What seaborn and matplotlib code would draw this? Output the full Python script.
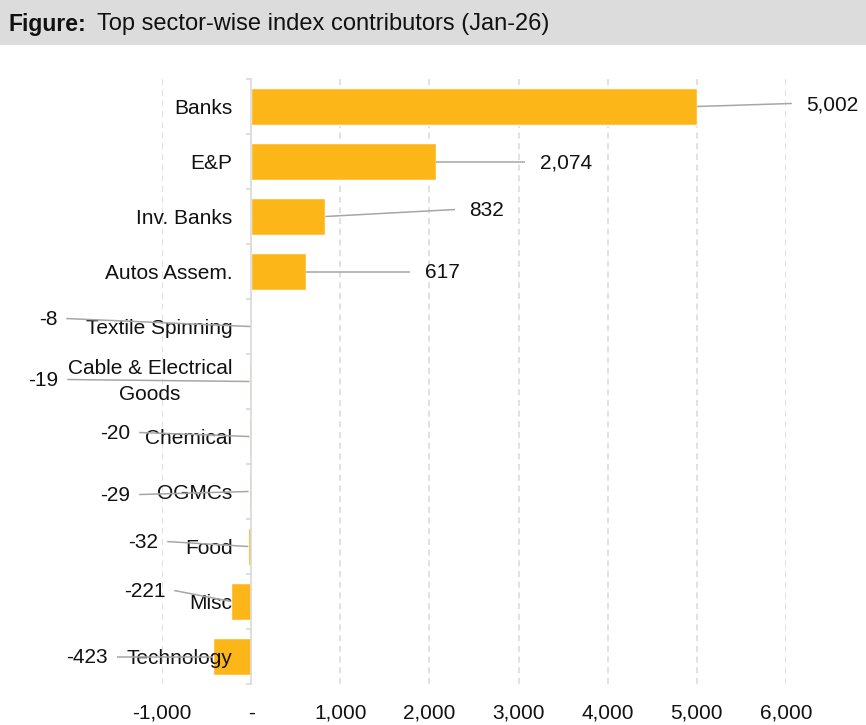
import matplotlib
matplotlib.use("Agg")
import matplotlib.pyplot as plt
import matplotlib.transforms as mtransforms
from matplotlib.patches import Rectangle
import seaborn as sns
import pandas as pd

# Sector contributions to the index, Jan-26
sectors = ["Banks", "E&P", "Inv. Banks", "Autos Assem.", "Textile Spinning",
           "Cable & Electrical\nGoods", "Chemical", "OGMCs", "Food", "Misc", "Technology"]
contribution = [5002, 2074, 832, 617, -8, -19, -20, -29, -32, -221, -423]

x_ticks = [-1000, 0, 1000, 2000, 3000, 4000, 5000, 6000]
x_tick_labels = ["-1,000", "-", "1,000", "2,000", "3,000", "4,000", "5,000", "6,000"]

# where each value label's leader line ends (x in data units, vertical shift in rows)
leader_x = [6065, 3072, 2287, 1783, -2074, -2063, -1256, -1256, -942, -863, -1502]
leader_dy = [-0.055, 0.0, -0.127, 0.0, -0.145, -0.036, -0.073, 0.055, -0.09, -0.2, 0.0]

BAR = "#FDB618"
GRID = "#D9D9D9"
LEADER = "#A6A6A6"

sns.set_theme(style="white")
plt.rcParams["font.family"] = ["Liberation Sans", "DejaVu Sans"]

df = pd.DataFrame({"sector": sectors, "value": contribution})

fig = plt.figure(figsize=(8.66, 7.25), dpi=100)

# grey title band
fig.patches.append(Rectangle((0, 1 - 45 / 725), 1, 45 / 725, transform=fig.transFigure,
                             facecolor="#DCDCDC", edgecolor="none", zorder=0))
fig.text(8 / 866, 1 - 24 / 725, "Figure:", fontsize=16.5, fontweight="bold",
         va="center", ha="left", color="#111111")
fig.text(97 / 866, 1 - 24 / 725, "Top sector-wise index contributors (Jan-26)",
         fontsize=17, va="center", ha="left", color="#111111")

ax = fig.add_axes([162 / 866, 1 - 684 / 725, (786 - 162) / 866, (684 - 79) / 725])

# dashed vertical gridlines behind the bars
for t in x_ticks:
    if t != 0:
        ax.axvline(t, color=GRID, linestyle=(0, (4, 3)), linewidth=1.1, zorder=0.5)

sns.barplot(data=df, x="value", y="sector", orient="h", color=BAR, saturation=1,
            width=0.66, ax=ax, zorder=1)

n = len(sectors)
ax.set_xlim(-1000, 6000)
ax.set_ylim(n - 0.5, -0.5)
ax.set_axisbelow(False)  # category names sit on top of the bars

# axes styling
for side in ("top", "right", "bottom"):
    ax.spines[side].set_visible(False)
ax.spines["left"].set_position(("data", 0))
ax.spines["left"].set_color(GRID)
ax.spines["left"].set_linewidth(1.2)

ax.set_xticks(x_ticks)
ax.set_xticklabels(x_tick_labels)
ax.tick_params(axis="x", length=0, pad=14, labelsize=15, labelcolor="#111111")

ax.set_yticks(range(n))
ax.set_yticklabels(sectors)
ax.set_yticks([i - 0.5 for i in range(n + 1)], minor=True)
ax.tick_params(axis="y", which="major", length=0, pad=13.5, labelsize=15,
               labelcolor="#111111")
ax.tick_params(axis="y", which="minor", length=3.6, width=1.2, color=GRID, left=True)
for lbl in ax.get_yticklabels():
    lbl.set_multialignment("center")
    lbl.set_linespacing(1.4)
    if "\n" in lbl.get_text():
        lbl.set_verticalalignment("center")

ax.grid(False)
ax.set_xlabel("")
ax.set_ylabel("")

# value labels with leader lines
for i, (v, lx, dy) in enumerate(zip(contribution, leader_x, leader_dy)):
    ax.plot([v, lx], [i, i + dy], color=LEADER, linewidth=1.1, zorder=3,
            clip_on=False, solid_capstyle="butt")
    if v >= 0:
        off = mtransforms.offset_copy(ax.transData, fig=fig, x=10.5, y=-1, units="points")
        ha = "left"
    else:
        off = mtransforms.offset_copy(ax.transData, fig=fig, x=-6.5, y=-1, units="points")
        ha = "right"
    ax.text(lx, i + dy, f"{v:,}", transform=off, ha=ha, va="center",
            fontsize=15, color="#111111", clip_on=False, zorder=4)

fig.savefig("out.png", dpi=100)
